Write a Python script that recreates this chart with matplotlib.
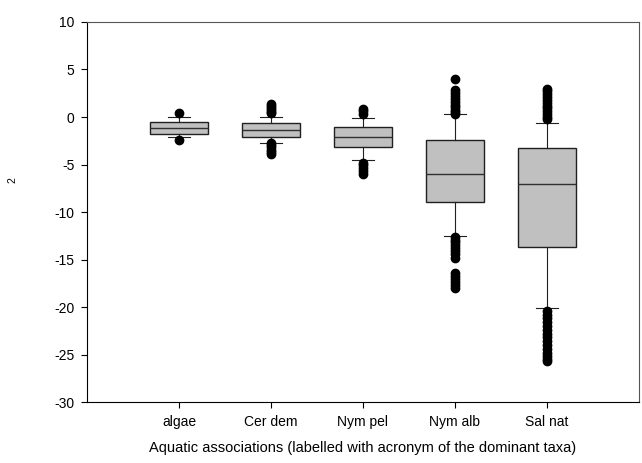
import matplotlib.pyplot as plt

plt.rcParams['font.family'] = ['Liberation Sans', 'DejaVu Sans']
plt.rcParams['axes.unicode_minus'] = False

groups = ["algae", "Cer dem", "Nym pel", "Nym alb", "Sal nat"]
q1 = [-1.8, -2.14, -3.19, -8.98, -13.7]
med = [-1.12, -1.37, -2.14, -6.0, -7.05]
q3 = [-0.49, -0.67, -1.02, -2.42, -3.23]
whislo = [-2.07, -2.74, -4.53, -12.5, -20.1]
whishi = [0.03, 0.0, -0.14, 0.28, -0.67]
outliers = [
    [0.4, -2.4],
    [1.37, 1.15, 0.95, 0.75, 0.55, 0.42, -2.74, -2.95, -3.2, -3.45, -3.7, -3.9],
    [0.84, 0.6, 0.3, -4.84, -5.1, -5.4, -5.7, -6.0],
    [4.0, 2.8, 2.5, 2.2, 1.9, 1.6, 1.3, 1.0, 0.7, 0.5, 0.3,
     -12.6, -12.9, -13.2, -13.5, -13.8, -14.1, -14.4, -14.8,
     -16.4, -16.7, -17.0, -17.4, -17.7, -18.0],
    [2.95, 2.7, 2.4, 2.1, 1.8, 1.5, 1.2, 0.9, 0.6, 0.3, 0.0, -0.2,
     -20.4, -20.8, -21.2, -21.6, -22.0, -22.4, -22.8, -23.2, -23.6,
     -24.0, -24.4, -24.8, -25.2, -25.5, -25.7],
]

stats = []
for i, g in enumerate(groups):
    stats.append(dict(label=g, q1=q1[i], med=med[i], q3=q3[i],
                      whislo=whislo[i], whishi=whishi[i], fliers=outliers[i]))

fig = plt.figure(figsize=(6.42, 4.63), dpi=100)
ax = fig.add_axes([0.1355, 0.1317, 0.9953 - 0.1355, 0.9525 - 0.1317])

ax.bxp(stats, positions=range(1, 6), widths=0.62, capwidths=0.24,
       patch_artist=True,
       boxprops=dict(facecolor='#c0c0c0', edgecolor='#202020', linewidth=1.0),
       medianprops=dict(color='#303030', linewidth=1.0),
       whiskerprops=dict(color='#202020', linewidth=0.8),
       capprops=dict(color='#202020', linewidth=0.8),
       flierprops=dict(marker='o', markersize=6, markerfacecolor='black',
                       markeredgecolor='black'))

ax.set_xlim(0, 6)
ax.set_ylim(-30, 10)
ax.set_yticks(range(-30, 11, 5))
ax.set_xticks(range(1, 6))
ax.set_xticklabels(groups)
ax.tick_params(direction='out', length=4, width=0.8, labelsize=10, pad=5)
for s in ['top', 'right']:
    ax.spines[s].set_color('#555555')
ax.set_xlabel("Aquatic associations (labelled with acronym of the dominant taxa)",
              fontsize=10.5, labelpad=9)
fig.text(12 / 642, 1 - 180 / 463, "2", rotation=90, fontsize=7.5,
         ha='center', va='center')

fig.savefig("out.png", dpi=100)
